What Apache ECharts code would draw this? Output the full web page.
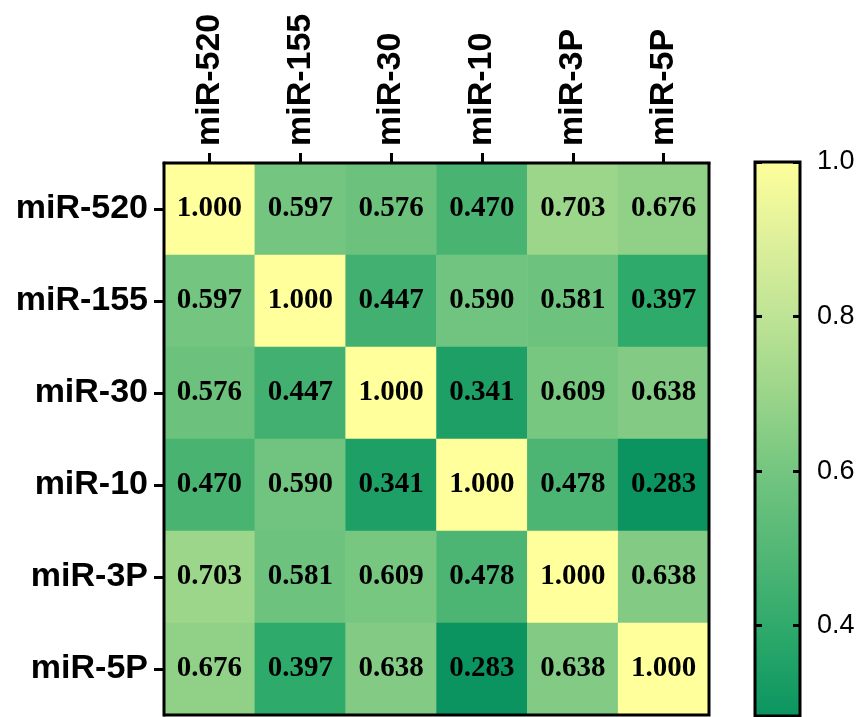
<!DOCTYPE html>
<html>
<head>
<meta charset="utf-8">
<script src="https://cdn.jsdelivr.net/npm/echarts@6/dist/echarts.min.js"></script>
<style>html,body{margin:0;padding:0;background:#fff;}#c{width:860px;height:717px;}</style>
</head>
<body>
<div id="c"></div>
<script>
var categories = ['miR-520', 'miR-155', 'miR-30', 'miR-10', 'miR-3P', 'miR-5P'];
var matrix = [
  [1.000, 0.597, 0.576, 0.470, 0.703, 0.676],
  [0.597, 1.000, 0.447, 0.590, 0.581, 0.397],
  [0.576, 0.447, 1.000, 0.341, 0.609, 0.638],
  [0.470, 0.590, 0.341, 1.000, 0.478, 0.283],
  [0.703, 0.581, 0.609, 0.478, 1.000, 0.638],
  [0.676, 0.397, 0.638, 0.283, 0.638, 1.000]
];
var colorMin = 0.283, colorMax = 1.0;
var colorTicks = [0.4, 0.6, 0.8, 1.0];
var palette = ['#0b9460', '#2aa86a', '#50b674', '#70c47f', '#98d489', '#bde395', '#def09b', '#ffff9b'];

var data = [];
for (var r = 0; r < matrix.length; r++) {
  for (var c = 0; c < matrix[r].length; c++) {
    data.push([c, r, matrix[r][c]]);
  }
}
var stops = palette.map(function (col, i) { return { offset: 1 - i / (palette.length - 1), color: col }; });

var chart = echarts.init(document.getElementById('c'));
chart.setOption({
  animation: false,
  backgroundColor: '#fff',
  grid: [
    { left: 164, right: 151, top: 163, bottom: 2, show: true, borderColor: '#000', borderWidth: 3, backgroundColor: 'transparent', z: 5 },
    { left: 755, right: 60, top: 162, bottom: 1, show: true, borderColor: '#000', borderWidth: 3,
      backgroundColor: { type: 'linear', x: 0, y: 0, x2: 0, y2: 1, colorStops: stops } }
  ],
  xAxis: [
    { type: 'category', gridIndex: 0, position: 'top', data: categories,
      axisLine: { show: true, lineStyle: { color: '#000', width: 3 } },
      axisTick: { show: true, alignWithLabel: true, length: 10, lineStyle: { color: '#000', width: 3 } },
      axisLabel: { rotate: -90, margin: 17, color: '#000', fontFamily: 'Liberation Sans, Arial', fontWeight: 'bold', fontSize: 34 },
      splitLine: { show: false } },
    { type: 'value', gridIndex: 1, show: false, min: 0, max: 1 }
  ],
  yAxis: [
    { type: 'category', gridIndex: 0, inverse: true, data: categories,
      axisLine: { show: true, lineStyle: { color: '#000', width: 3 } },
      axisTick: { show: true, alignWithLabel: true, length: 10, lineStyle: { color: '#000', width: 3 } },
      axisLabel: { margin: 16, color: '#000', fontFamily: 'Liberation Sans, Arial', fontWeight: 'bold', fontSize: 34 },
      splitLine: { show: false } },
    { type: 'value', gridIndex: 1, position: 'left', min: colorMin, max: colorMax,
      axisLine: { show: false },
      axisTick: { show: true, inside: true, length: 7, customValues: colorTicks, lineStyle: { color: '#000', width: 3 } },
      axisLabel: { show: false },
      splitLine: { show: false } },
    { type: 'value', gridIndex: 1, position: 'right', min: colorMin, max: colorMax,
      axisLine: { show: false },
      axisTick: { show: true, inside: true, length: 7, customValues: colorTicks, lineStyle: { color: '#000', width: 3 } },
      axisLabel: { show: true, inside: false, margin: 17, customValues: colorTicks, color: '#000', fontFamily: 'Liberation Sans, Arial', fontSize: 27,
        formatter: function (v) { return v.toFixed(1); } },
      splitLine: { show: false } }
  ],
  visualMap: {
    show: false, type: 'continuous', min: colorMin, max: colorMax, seriesIndex: 0, dimension: 2,
    inRange: { color: palette }
  },
  series: [
    { type: 'heatmap', xAxisIndex: 0, yAxisIndex: 0, data: data,
      label: { show: true, color: '#000', fontFamily: 'Liberation Serif, Times New Roman', fontWeight: 'bold', fontSize: 29,
        formatter: function (p) { return p.value[2].toFixed(3); } },
      itemStyle: { borderWidth: 0 },
      emphasis: { disabled: true } },
    { type: 'line', xAxisIndex: 1, yAxisIndex: 2, data: [], silent: true }
  ]
});
</script>
</body>
</html>
